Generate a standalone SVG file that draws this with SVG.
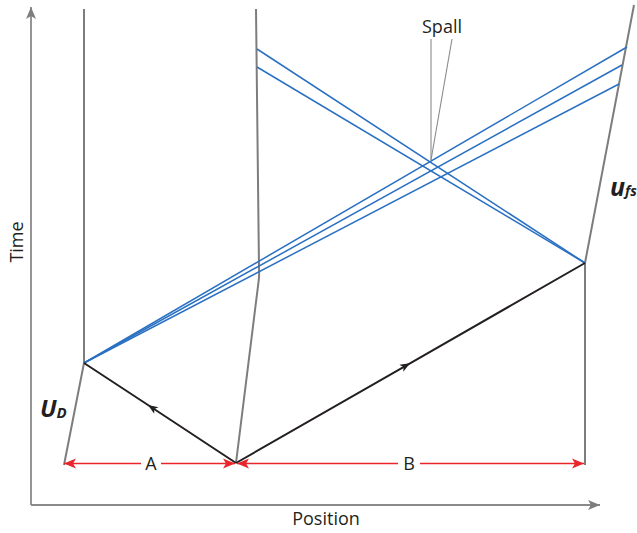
<svg xmlns="http://www.w3.org/2000/svg" width="637" height="533" viewBox="0 0 637 533">
  <style>
    .axis { stroke: #8a8a8a; stroke-width: 1.8; fill: none; }
    .struct { stroke: #7d7d7d; stroke-width: 2; fill: none; stroke-linejoin: round; }
    .wave { stroke: #2a70c2; stroke-width: 1.5; fill: none; }
    .shock { stroke: #231f20; stroke-width: 2; fill: none; }
    .dim { stroke: #e8252a; stroke-width: 1.6; fill: none; }
    .lead { stroke: #8a8a8a; stroke-width: 1.1; fill: none; }
    .lbl { font-family: "Open Sans", "Liberation Sans", sans-serif; font-size: 18px; fill: #231f20; }
    .sym { font-family: "Open Sans", "Liberation Sans", sans-serif; font-weight: bold; font-style: italic; fill: #231f20; }
  </style>
  <defs>
    <marker id="axisArrow" markerUnits="userSpaceOnUse" markerWidth="14" markerHeight="12" viewBox="-13 -6 14 12" refX="0" refY="0" orient="auto">
      <path d="M0,0 L-12,-5 L-9,0 L-12,5 Z" fill="#7d7d7d"/>
    </marker>
    <marker id="redArrow" markerUnits="userSpaceOnUse" markerWidth="14" markerHeight="12" viewBox="-13 -6 14 12" refX="0" refY="0" orient="auto-start-reverse">
      <path d="M0,0 L-12,-5 L-9,0 L-12,5 Z" fill="#e8252a"/>
    </marker>
    <marker id="blackArrow" markerUnits="userSpaceOnUse" markerWidth="12" markerHeight="10" viewBox="-11 -5 12 10" refX="0" refY="0" orient="auto">
      <path d="M0,0 L-10,-4 L-7.5,0 L-10,4 Z" fill="#231f20"/>
    </marker>
  </defs>

  <g id="axes">
    <line class="axis" x1="31" y1="505" x2="31" y2="7" marker-end="url(#axisArrow)"/>
    <line class="axis" x1="31" y1="505" x2="600" y2="505" marker-end="url(#axisArrow)"/>
  </g>

  <g id="time-label">
    <text class="lbl" transform="translate(23,242) rotate(-90)" text-anchor="middle">Time</text>
  </g>
  <g id="position-label">
    <text class="lbl" x="326" y="525" text-anchor="middle">Position</text>
  </g>

  <g id="flyer-back">
    <path class="struct" d="M84,9 L84,363 L64,465"/>
  </g>
  <g id="interface">
    <path class="struct" d="M256,9 L259,268 Q259.5,276 258.5,282 L236,463"/>
  </g>
  <g id="free-surface">
    <path class="struct" d="M585,465 L585,263 L634,5"/>
  </g>

  <g id="connectors">
    <g id="release-waves">
      <line class="wave" x1="84" y1="363" x2="627" y2="47"/>
      <line class="wave" x1="84" y1="363" x2="622" y2="65"/>
      <line class="wave" x1="84" y1="363" x2="619" y2="84"/>
      <line class="wave" x1="585" y1="263" x2="257" y2="49"/>
      <line class="wave" x1="585" y1="263" x2="257" y2="67"/>
    </g>
    <g id="shock-waves">
      <polyline class="shock" points="236,463 148,405 84,363" marker-mid="url(#blackArrow)"/>
      <polyline class="shock" points="236,463 410,363.3 585,263" marker-mid="url(#blackArrow)"/>
    </g>
    <g id="spall-leaders">
      <line class="lead" x1="431" y1="39" x2="431" y2="160"/>
      <line class="lead" x1="452" y1="39" x2="431" y2="160"/>
    </g>
    <g id="dimensions">
      <line class="dim" x1="141" y1="463.5" x2="64" y2="463.5" marker-end="url(#redArrow)"/>
      <line class="dim" x1="161" y1="463.5" x2="235" y2="463.5" marker-end="url(#redArrow)"/>
      <line class="dim" x1="398" y1="463.5" x2="237" y2="463.5" marker-end="url(#redArrow)"/>
      <line class="dim" x1="420" y1="463.5" x2="584" y2="463.5" marker-end="url(#redArrow)"/>
    </g>
  </g>

  <g id="label-A">
    <text class="lbl" x="151" y="470" text-anchor="middle">A</text>
  </g>
  <g id="label-B">
    <text class="lbl" x="409" y="470" text-anchor="middle">B</text>
  </g>
  <g id="label-spall">
    <text class="lbl" x="442" y="33" text-anchor="middle">Spall</text>
  </g>
  <g id="label-UD">
    <text class="sym" x="40" y="417" font-size="24">U<tspan font-size="15" dy="1">D</tspan></text>
  </g>
  <g id="label-ufs">
    <text class="sym" x="610" y="196" font-size="25">u<tspan font-size="14">fs</tspan></text>
  </g>
</svg>
